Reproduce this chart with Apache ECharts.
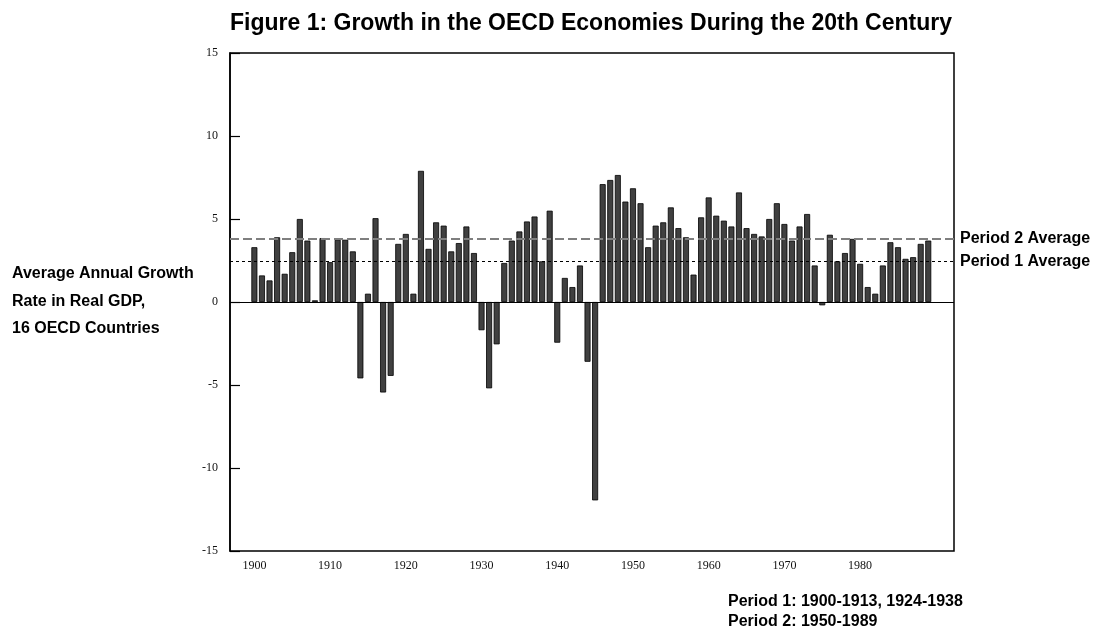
<!DOCTYPE html>
<html>
<head>
<meta charset="utf-8">
<script src="https://cdn.jsdelivr.net/npm/echarts@6/dist/echarts.min.js"></script>
<style>
html,body{margin:0;padding:0;background:#fff;}
#chart{width:1093px;height:629px;}
</style>
</head>
<body>
<div id="chart"></div>
<script>
// Years with data
var years = [
  1900,1901,1902,1903,1904,1905,1906,1907,1908,1909,
  1910,1911,1912,1913,1914,1915,1916,1917,1918,1919,
  1920,1921,1922,1923,1924,1925,1926,1927,1928,1929,
  1930,1931,1932,1933,1934,1935,1936,1937,1938,1939,
  1940,1941,1942,1943,1944,1945,1946,1947,1948,1949,
  1950,1951,1952,1953,1954,1955,1956,1957,1958,1959,
  1960,1961,1962,1963,1964,1965,1966,1967,1968,1969,
  1970,1971,1972,1973,1974,1975,1976,1977,1978,1979,
  1980,1981,1982,1983,1984,1985,1986,1987,1988,1989
];

// Average annual growth rate in real GDP, 1900-1989
var growth = [
  3.3, 1.6, 1.3, 3.9, 1.7, 3.0, 5.0, 3.7, 0.1, 3.85,
  2.4, 3.75, 3.75, 3.05, -4.6, 0.5, 5.05, -5.45, -4.45, 3.5,
  4.1, 0.5, 7.9, 3.2, 4.8, 4.6, 3.05, 3.55, 4.55, 2.95,
  -1.7, -5.2, -2.55, 2.35, 3.7, 4.25, 4.85, 5.15, 2.45, 5.5,
  -2.45, 1.45, 0.9, 2.2, -3.6, -11.95, 7.1, 7.35, 7.65, 6.05,
  6.85, 5.95, 3.3, 4.6, 4.8, 5.7, 4.45, 3.9, 1.65, 5.1,
  6.3, 5.2, 4.9, 4.55, 6.6, 4.45, 4.1, 3.95, 5.0, 5.95,
  4.7, 3.7, 4.55, 5.3, 2.2, -0.2, 4.05, 2.45, 2.95, 3.8,
  2.3, 0.9, 0.5, 2.2, 3.6, 3.3, 2.6, 2.7, 3.5, 3.7
];

var period1Average = 2.45;
var period2Average = 3.8;

var xLabelYears = [1900, 1910, 1920, 1930, 1940, 1950, 1960, 1970, 1980];
var yTicks = [-15, -10, -5, 0, 5, 10, 15];

var titleText = 'Figure 1: Growth in the OECD Economies During the 20th Century';
var leftText = ['Average Annual Growth', 'Rate in Real GDP,', '16 OECD Countries'];
var noteText = ['Period 1: 1900-1913, 1924-1938', 'Period 2: 1950-1989'];

var seriesData = years.map(function (yr, i) { return [yr, growth[i]]; });

var sans = "'Liberation Sans', Arial, sans-serif";
var serif = "'Liberation Serif', 'Times New Roman', serif";

var chart = echarts.init(document.getElementById('chart'), null, {renderer: 'canvas'});
chart.setOption({
  animation: false,
  backgroundColor: '#fff',
  grid: {
    left: 230, right: 139, top: 53, bottom: 78,
    show: true, borderColor: '#000', borderWidth: 1.5, backgroundColor: 'transparent'
  },
  xAxis: {
    type: 'value',
    min: 1896.78, max: 1992.4,
    axisLine: {show: false},
    axisTick: {show: false},
    splitLine: {show: false},
    axisLabel: {
      customValues: xLabelYears,
      formatter: function (v) { return String(v); },
      fontFamily: serif, fontSize: 12, color: '#111', margin: 9
    }
  },
  yAxis: {
    type: 'value',
    min: yTicks[0], max: yTicks[yTicks.length - 1], interval: 5,
    axisLine: {show: true, lineStyle: {color: '#000', width: 1.5}},
    axisTick: {show: true, inside: true, length: 10, lineStyle: {color: '#000', width: 1.2}},
    splitLine: {show: false},
    axisLabel: {fontFamily: serif, fontSize: 12, color: '#111', margin: 12}
  },
  series: [{
    type: 'bar',
    data: seriesData,
    barWidth: 6,
    itemStyle: {color: '#404040', borderColor: '#000', borderWidth: 0.8},
    markLine: {
      silent: true,
      symbol: ['none', 'none'],
      animation: false,
      data: [
        {yAxis: 0, lineStyle: {color: '#000', width: 1, type: 'solid'}, label: {show: false}},
        {yAxis: period2Average, lineStyle: {color: '#7f7f7f', width: 2, type: [9, 4]},
          label: {show: true, position: 'end', distance: 6, formatter: 'Period 2 Average',
            fontFamily: sans, fontWeight: 'bold', fontSize: 16, color: '#000'}},
        {yAxis: period1Average, lineStyle: {color: '#000', width: 1, type: [3, 3]},
          label: {show: true, position: 'end', distance: 6, formatter: 'Period 1 Average',
            fontFamily: sans, fontWeight: 'bold', fontSize: 16, color: '#000'}}
      ]
    }
  }],
  graphic: [
    {type: 'text', x: 591, y: 24,
      style: {text: titleText, textAlign: 'center', textVerticalAlign: 'middle',
        font: 'bold 23px ' + sans, fill: '#000'}},
    {type: 'text', x: 12, y: 260,
      style: {text: leftText.join('\n'), lineHeight: 27.5,
        font: 'bold 16px ' + sans, fill: '#000'}},
    {type: 'text', x: 728, y: 591,
      style: {text: noteText.join('\n'), lineHeight: 20.5,
        font: 'bold 16px ' + sans, fill: '#000'}}
  ]
});
</script>
</body>
</html>
